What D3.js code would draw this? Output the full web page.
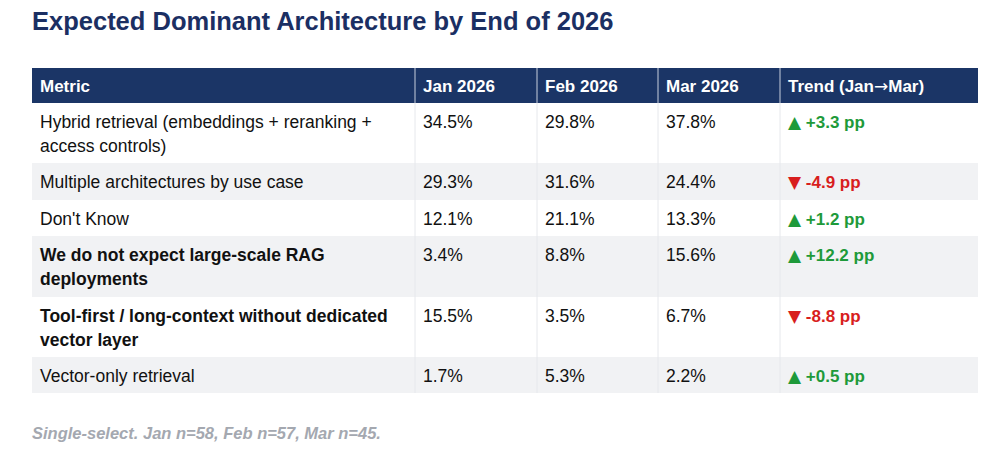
<!DOCTYPE html>
<html><head><meta charset="utf-8">
<script src="https://cdn.jsdelivr.net/npm/d3@7"></script>
<style>body{margin:0;background:#fff;font-family:"Liberation Sans",Arial,sans-serif}</style>
</head><body><svg id="c" width="1000" height="470"></svg>
<script>
const columns = ["Metric","Jan 2026","Feb 2026","Mar 2026","Trend (Jan\u2192Mar)"];
const metrics = [["Hybrid retrieval (embeddings + reranking +","access controls)"],["Multiple architectures by use case"],["Don't Know"],["We do not expect large-scale RAG","deployments"],["Tool-first / long-context without dedicated","vector layer"],["Vector-only retrieval"]];
const boldRows = [false,false,false,true,true,false];
const jan = [34.5,29.3,12.1,3.4,15.5,1.7];
const feb = [29.8,31.6,21.1,8.8,3.5,5.3];
const mar = [37.8,24.4,13.3,15.6,6.7,2.2];
const trend = [3.3,-4.9,1.2,12.2,-8.8,0.5];

const svg = d3.select("#c");
svg.append("text").attr("x",32).attr("y",30).attr("fill","#1b2f63").attr("font-size",25.5).attr("font-weight","bold").text("Expected Dominant Architecture by End of 2026");
const colX = [32,415,537,658,780,978];
const hdrTop=68, hdrBot=103;
const rowH = [60,37,36,61,60,36];
const rowTops = []; let y=hdrBot; rowH.forEach(h=>{rowTops.push(y); y+=h;});
svg.append("rect").attr("x",32).attr("y",hdrTop).attr("width",946).attr("height",hdrBot-hdrTop).attr("fill","#1b3566");
columns.forEach((c,i)=>{
  const t=svg.append("text").attr("x",colX[i]+8).attr("y",hdrTop+24).attr("fill","#fff").attr("font-size",17).attr("font-weight","bold");
  const parts=c.split("\u2192");
  t.append("tspan").text(parts[0]);
  if(parts.length>1){t.append("tspan").attr("font-family","DejaVu Sans").attr("font-weight","normal").text("\u2192");t.append("tspan").text(parts[1]);}
  if(i>0) svg.append("line").attr("x1",colX[i]).attr("x2",colX[i]).attr("y1",hdrTop).attr("y2",hdrBot).attr("stroke","#c8cfdc").attr("stroke-width",1);
});
metrics.forEach((m,r)=>{
  const t=rowTops[r];
  svg.append("rect").attr("x",32).attr("y",t).attr("width",946).attr("height",rowH[r]).attr("fill",r%2? "#f1f2f4":"#fff");
  for(let i=1;i<5;i++) svg.append("line").attr("x1",colX[i]).attr("x2",colX[i]).attr("y1",t).attr("y2",t+rowH[r]).attr("stroke","#e6e8ec");
  m.forEach((ln,k)=>svg.append("text").attr("x",40).attr("y",t+25+k*24).attr("font-size",17.5).attr("fill","#111").attr("font-weight",boldRows[r]?"bold":"normal").text(ln));
  [jan[r],feb[r],mar[r]].forEach((v,i)=>svg.append("text").attr("x",colX[i+1]+8).attr("y",t+25).attr("font-size",17.5).attr("fill","#111").text(v.toFixed(1)+"%"));
  const up=trend[r]>=0;
  const tt=svg.append("text").attr("x",788).attr("y",t+25).attr("font-size",17).attr("font-weight","bold").attr("fill",up?"#1e9a3a":"#d81e1e");
  tt.append("tspan").attr("font-family","DejaVu Sans").attr("font-weight","normal").text(up?"\u25B2":"\u25BC");
  tt.append("tspan").text(" "+(up?"+":"-")+Math.abs(trend[r]).toFixed(1)+" pp");
});
svg.append("text").attr("x",32).attr("y",439).attr("font-size",16.5).attr("font-style","italic").attr("font-weight","bold").attr("fill","#a4a8b0").text("Single-select. Jan n=58, Feb n=57, Mar n=45.");
</script></body></html>
